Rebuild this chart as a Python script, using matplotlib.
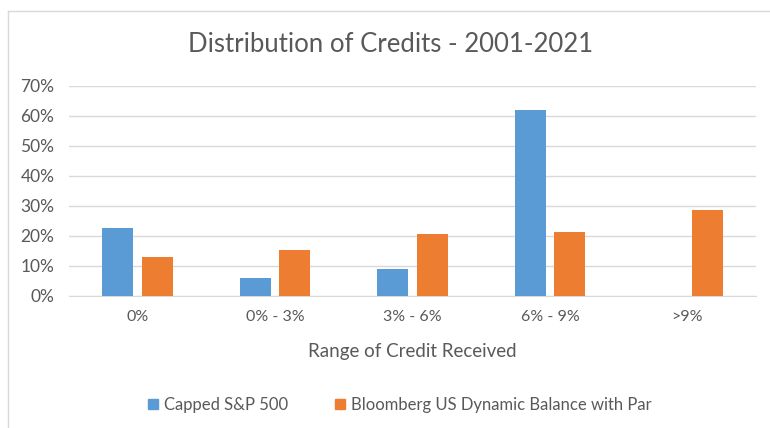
import matplotlib
matplotlib.use("Agg")
import matplotlib.pyplot as plt
import numpy as np
from matplotlib.lines import Line2D
from matplotlib.patches import Patch

categories = ["0%", "0% - 3%", "3% - 6%", "6% - 9%", ">9%"]
capped_sp500 = [22.7, 6.0, 8.9, 61.9, 0.0]
bloomberg = [13.0, 15.4, 20.7, 21.5, 28.8]
series_names = ["Capped S&P 500", "Bloomberg US Dynamic Balance with Par"]
yticks = [0, 10, 20, 30, 40, 50, 60, 70]

plt.rcParams['font.family'] = ['Lato', 'DejaVu Sans']
txt = '#595959'
blue = '#5B9BD5'
orange = '#ED7D31'

W, H = 770, 428
fig = plt.figure(figsize=(W / 100, H / 100), dpi=100)
ax = fig.add_axes([69 / W, 1 - 296 / H, 687 / W, 210 / H])

x = np.arange(len(categories))
bw = 0.225
off = 0.144
ax.bar(x - off, capped_sp500, bw, color=blue, zorder=3)
ax.bar(x + off, bloomberg, bw, color=orange, zorder=3)

ax.set_xlim(-0.5, len(categories) - 0.5)
ax.set_ylim(0, 70)
ax.set_yticks(yticks)
ax.set_yticklabels([f"{v}%" for v in yticks], color=txt, fontsize=12.5)
ax.set_xticks(x)
ax.set_xticklabels(categories, color=txt, fontsize=11.5)
ax.tick_params(axis='x', length=0, pad=10)
ax.tick_params(axis='y', length=0, pad=10.5)
ax.grid(axis='y', color='#D9D9D9', linewidth=1, zorder=0)
for s in ['top', 'right', 'left']:
    ax.spines[s].set_visible(False)
ax.spines['bottom'].set_color('#D9D9D9')
ax.set_xlabel("Range of Credit Received", color=txt, fontsize=13.5, labelpad=14)

fig.text(391 / W, 1 - 45 / H, "Distribution of Credits - 2001-2021", ha='center', va='center',
         color=txt, fontsize=18.5)

handles = [Patch(color=blue), Patch(color=orange)]
fig.legend(handles, series_names, loc='center', bbox_to_anchor=(400 / W, 1 - 405 / H), ncol=2,
           frameon=False, fontsize=12, labelcolor=txt, handlelength=0.6, handleheight=0.6,
           handletextpad=0.35, columnspacing=2.8)

# chart border
fig.add_artist(Line2D([8 / W, 8 / W], [0, 1 - 11 / H], color='#D9D9D9', lw=1, transform=fig.transFigure))
fig.add_artist(Line2D([8 / W, 1], [1 - 11 / H, 1 - 11 / H], color='#D9D9D9', lw=1, transform=fig.transFigure))

fig.savefig("out.png", dpi=100)
